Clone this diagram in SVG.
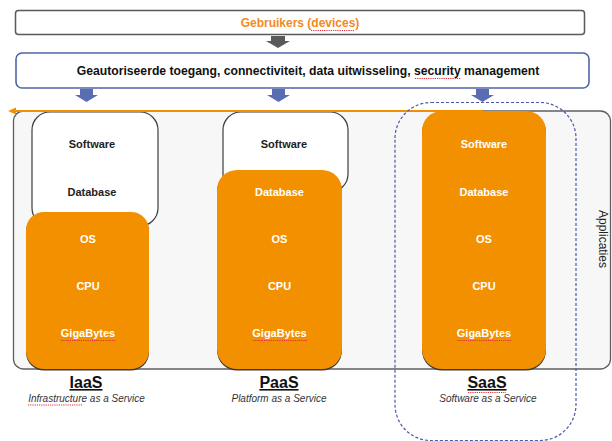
<svg xmlns="http://www.w3.org/2000/svg" width="612" height="441" viewBox="0 0 612 441">
<defs>
<style>
text{font-family:"Liberation Sans",Arial,sans-serif;text-anchor:middle}
.lay{font-size:11px;font-weight:bold}
.w{fill:#ffffff}
.k{fill:#222222}
.org{fill:#f39000}
.shadow{fill:#3a3a3a}
.wbox{fill:#ffffff;stroke:#3c3c3c;stroke-width:1.2}
.title{font-size:16px;font-weight:bold;fill:#111111;text-decoration:underline}
.sub{font-size:10px;font-style:italic;fill:#333333}
.spell{fill:none;stroke:#e0303a;stroke-width:1;stroke-dasharray:1.2 1}
.barrow{fill:#5a6db3}
</style>
</defs>
<rect width="612" height="441" fill="#ffffff"/>

<g id="gebruikers">
<rect x="15.5" y="10.5" width="569" height="24" rx="3" fill="#ffffff" stroke="#5a5a5a" stroke-width="1.5"/>
<text x="300" y="27" font-size="12" font-weight="bold" fill="#f18a1f">Gebruikers (devices)</text>
<path class="spell" d="M311 30.5 H355"/>
</g>

<g id="toegang">
<rect x="16" y="53" width="573" height="35" rx="6" fill="#ffffff" stroke="#5064aa" stroke-width="1.6"/>
<text x="308" y="75" font-size="12.2" font-weight="bold" fill="#111111">Geautoriseerde toegang, connectiviteit, data uitwisseling, security management</text>
<path class="spell" d="M415 78.5 H461"/>
</g>

<g id="container">
<rect x="13.5" y="111" width="597" height="258" rx="10" fill="#f7f7f7" stroke="#5f5f5f" stroke-width="1.3"/>
<text transform="translate(599,239) rotate(90)" font-size="12" fill="#222222">Applicaties</text>
</g>

<g id="iaas">
<rect class="wbox" x="32" y="112" width="126" height="114" rx="18"/>
<rect class="shadow" x="26" y="213.5" width="123" height="157" rx="18"/>
<rect class="org" x="26" y="212" width="123" height="157" rx="18"/>
<text class="lay k" x="92" y="148">Software</text>
<text class="lay k" x="92" y="196">Database</text>
<text class="lay w" x="88" y="243">OS</text>
<text class="lay w" x="88" y="290">CPU</text>
<text class="lay w" x="88" y="337">GigaBytes</text>
<path class="spell" d="M61 340.5 H115"/>
<text class="title" x="86" y="388">IaaS</text>
<text class="sub" x="86.5" y="402">Infrastructure as a Service</text>
<path class="spell" d="M28 405 H82"/>
</g>

<g id="paas">
<rect class="wbox" x="223" y="112" width="125" height="80" rx="18"/>
<rect class="shadow" x="217" y="171.5" width="125" height="199" rx="20"/>
<rect class="org" x="217" y="170" width="125" height="199" rx="20"/>
<text class="lay k" x="284" y="148">Software</text>
<text class="lay w" x="279.5" y="196">Database</text>
<text class="lay w" x="279.5" y="243">OS</text>
<text class="lay w" x="279.5" y="290">CPU</text>
<text class="lay w" x="279.5" y="337">GigaBytes</text>
<path class="spell" d="M253 340.5 H307"/>
<text class="title" x="279" y="388">PaaS</text>
<text class="sub" x="279" y="402">Platform as a Service</text>
</g>

<g id="saas">
<rect class="shadow" x="422" y="112.5" width="124" height="258" rx="20"/>
<rect class="org" x="422" y="111" width="124" height="258" rx="20"/>
<text class="lay w" x="484" y="148">Software</text>
<text class="lay w" x="484" y="196">Database</text>
<text class="lay w" x="484" y="243">OS</text>
<text class="lay w" x="484" y="290">CPU</text>
<text class="lay w" x="484" y="337">GigaBytes</text>
<path class="spell" d="M457 340.5 H511"/>
<text class="title" x="487" y="388">SaaS</text>
<path class="spell" d="M468 392.5 H506"/>
<text class="sub" x="488" y="402">Software as a Service</text>
</g>

<g id="connectors">
<path d="M271 36 H285 V41 H290 L278 48 L266 41 H271 Z" fill="#5a5a5a"/>
<path class="barrow" d="M80 89 H93 V95 H98 L86.5 102 L75 95 H80 Z"/>
<path class="barrow" d="M272 89 H285 V95 H290 L278.5 102 L267 95 H272 Z"/>
<path class="barrow" d="M476 89 H489 V95 H494 L482.5 102 L471 95 H476 Z"/>
<path d="M483 111 H15" fill="none" stroke="#f39000" stroke-width="2"/>
<path d="M8 111 L16 107.5 L16 114.5 Z" fill="#f39000"/>
</g>

<g id="saas-scope">
<rect x="395" y="102.5" width="181" height="338" rx="36" fill="none" stroke="#4a5ca8" stroke-width="1.2" stroke-dasharray="3 2"/>
</g>
</svg>
